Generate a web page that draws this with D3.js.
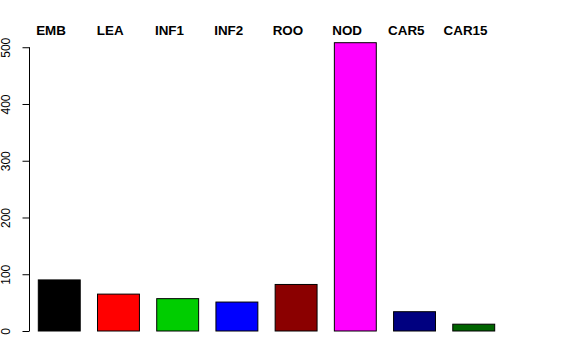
<!DOCTYPE html>
<html>
<head>
<meta charset="utf-8">
<script src="https://cdn.jsdelivr.net/npm/d3@7"></script>
<style>
html,body{margin:0;padding:0;background:#fff;}
svg{display:block;}
</style>
</head>
<body>
<svg id="chart" width="576" height="360"></svg>
<script>
const categories = ["EMB","LEA","INF1","INF2","ROO","NOD","CAR5","CAR15"];
const values = [90, 65, 57, 51, 82, 508, 34, 12];
const colors = ["#000000","#FF0000","#00CD00","#0000FF","#8B0000","#FF00FF","#000080","#006400"];
const yTicks = [0,100,200,300,400,500];

const svg = d3.select("#chart");
const font = "'Liberation Sans', Arial, Helvetica, sans-serif";

const x = d3.scaleBand().domain(categories).range([38.3, 494.7]).paddingInner(0.292).paddingOuter(0);
const y = d3.scaleLinear().domain([0, d3.max(values)]).range([331, 42.7]);

// bars
svg.append("g").selectAll("rect").data(categories).join("rect")
  .attr("x", d => x(d))
  .attr("y", (d,i) => y(values[i]))
  .attr("width", x.bandwidth())
  .attr("height", (d,i) => y(0) - y(values[i]))
  .attr("fill", (d,i) => colors[i])
  .attr("stroke", "#000")
  .attr("stroke-width", 1);

// y axis
const axis = d3.axisLeft(y).tickValues(yTicks).tickSize(7).tickPadding(0).tickSizeOuter(0);
const gy = svg.append("g").attr("transform", "translate(29.5,0)").call(axis);
gy.select(".domain").remove();
gy.append("line")
  .attr("x1", 0).attr("x2", 0)
  .attr("y1", y(yTicks[0])).attr("y2", y(yTicks[yTicks.length-1]))
  .attr("stroke", "#000");
gy.selectAll(".tick line").attr("stroke", "#000");
gy.selectAll(".tick text")
  .attr("x", 0).attr("dy", null).attr("y", 0)
  .attr("transform", "translate(-19.5,0) rotate(-90)")
  .attr("text-anchor", "middle")
  .attr("fill", "#000")
  .style("font-family", font)
  .style("font-size", "12px");

// top labels
svg.append("g").selectAll("text").data(categories).join("text")
  .attr("x", d => x(d) + x.bandwidth()/2 - 8.2)
  .attr("y", 34.5)
  .attr("text-anchor", "middle")
  .style("font-family", font)
  .style("font-weight", "bold")
  .style("font-size", "13.4px")
  .attr("fill", "#000")
  .text(d => d);
</script>
</body>
</html>
